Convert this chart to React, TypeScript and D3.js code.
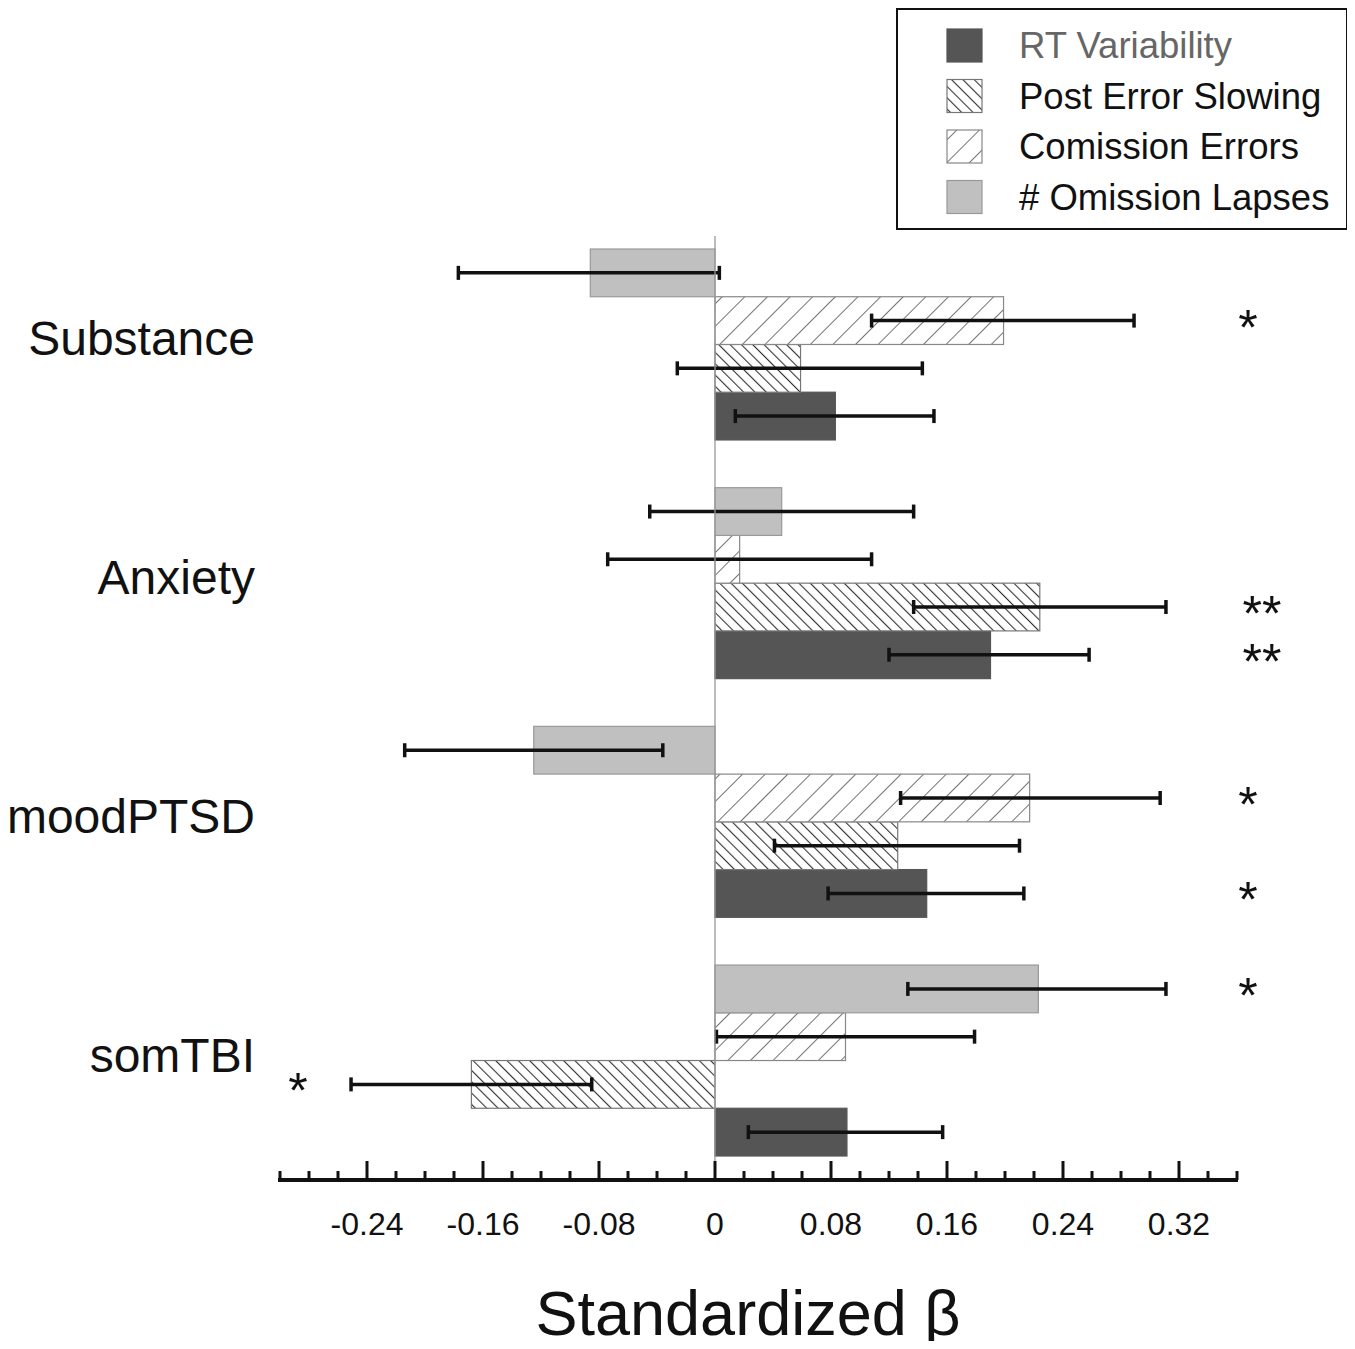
import React from "react";
import * as d3 from "d3";

// groups drawn top to bottom
const categories = ["Substance", "Anxiety", "moodPTSD", "somTBI"];
// series in legend order (bottom to top within a group)
const seriesNames = ["RT Variability", "Post Error Slowing", "Comission Errors", "# Omission Lapses"];

// values [RT, PES, Commission, Omission] per category
const betas = [
  [0.083, 0.059, 0.199, -0.086],
  [0.19, 0.224, 0.017, 0.046],
  [0.146, 0.126, 0.217, -0.125],
  [0.091, -0.168, 0.09, 0.223],
];
const ciLow = [
  [0.014, -0.026, 0.108, -0.177],
  [0.12, 0.137, -0.074, -0.045],
  [0.078, 0.041, 0.128, -0.214],
  [0.023, -0.251, 0.001, 0.133],
];
const ciHigh = [
  [0.151, 0.143, 0.289, 0.003],
  [0.258, 0.311, 0.108, 0.137],
  [0.213, 0.21, 0.307, -0.036],
  [0.157, -0.085, 0.179, 0.311],
];
const stars = [
  ["", "", "*", ""],
  ["**", "**", "", ""],
  ["*", "", "*", ""],
  ["", "*", "", "*"],
];
const tickLabels = [-0.24, -0.16, -0.08, 0, 0.08, 0.16, 0.24, 0.32];

const font = "'Liberation Sans', Arial, sans-serif";

export default function App() {
  const width = 1355;
  const height = 1349;
  const x = d3.scaleLinear().domain([-0.3, 0.36]).range([280, 1237]);
  const yGroup = d3.scaleBand().domain(categories).range([249, 1156]).paddingInner(0.2);
  const ySeries = d3
    .scaleBand()
    .domain(["3", "2", "1", "0"])
    .range([0, yGroup.bandwidth()]);
  const axisY = 1180;
  const ticks = d3.range(-15, 19).map((i) => i * 0.02);

  const fills = ["#555555", "url(#pes)", "url(#com)", "#c0c0c0"];
  const strokes = ["#555555", "#777777", "#888888", "#999999"];

  return (
    <svg width={width} height={height} style={{ display: "block", margin: -8 }}>
      <defs>
        <pattern id="pes" patternUnits="userSpaceOnUse" width="8" height="8" patternTransform="rotate(-45)">
          <rect width="8" height="8" fill="#fff" />
          <line x1="0" y1="0" x2="0" y2="8" stroke="#333" strokeWidth="2.2" />
        </pattern>
        <pattern id="com" patternUnits="userSpaceOnUse" width="16" height="16" patternTransform="rotate(45)">
          <rect width="16" height="16" fill="#fff" />
          <line x1="0" y1="0" x2="0" y2="16" stroke="#444" strokeWidth="1.5" />
        </pattern>
      </defs>
      <rect width={width} height={height} fill="#fff" />

      {categories.map((cat, ci) => {
        const gy = yGroup(cat)!;
        return (
          <g key={cat}>
            <text
              x={255}
              y={gy + yGroup.bandwidth() / 2 + 11}
              textAnchor="end"
              fontFamily={font}
              fontSize={48}
              fill="#111"
            >
              {cat}
            </text>
            {seriesNames.map((s, si) => {
              const v = betas[ci][si];
              const by = gy + ySeries(String(si))!;
              const bh = ySeries.bandwidth();
              const x0 = x(Math.min(0, v));
              const x1 = x(Math.max(0, v));
              const cy = by + bh / 2;
              const lo = x(ciLow[ci][si]);
              const hi = x(ciHigh[ci][si]);
              const st = stars[ci][si];
              return (
                <g key={s}>
                  <rect x={x0} y={by} width={x1 - x0} height={bh} fill={fills[si]} stroke={strokes[si]} strokeWidth={1.2} />
                  <line x1={lo} x2={hi} y1={cy} y2={cy} stroke="#111" strokeWidth={3.5} />
                  <line x1={lo} x2={lo} y1={cy - 7} y2={cy + 7} stroke="#111" strokeWidth={3.5} />
                  <line x1={hi} x2={hi} y1={cy - 7} y2={cy + 7} stroke="#111" strokeWidth={3.5} />
                  {st && (
                    <text
                      x={v < 0 ? 298 : st.length > 1 ? 1262 : 1248}
                      y={cy + 24}
                      textAnchor="middle"
                      fontFamily={font}
                      fontSize={50}
                      fill="#111"
                    >
                      {st}
                    </text>
                  )}
                </g>
              );
            })}
          </g>
        );
      })}

      {/* zero line */}
      <line x1={x(0)} x2={x(0)} y1={236} y2={axisY} stroke="#999" strokeWidth={1.3} />

      {/* x axis */}
      <line x1={x(-0.3) - 2} x2={x(0.36) + 1} y1={axisY} y2={axisY} stroke="#111" strokeWidth={4} />
      {ticks.map((t) => {
        const major = tickLabels.some((l) => Math.abs(l - t) < 1e-6);
        return (
          <line
            key={t.toFixed(2)}
            x1={x(t)}
            x2={x(t)}
            y1={axisY}
            y2={axisY - (major ? 19 : 9)}
            stroke="#111"
            strokeWidth={3}
          />
        );
      })}
      {tickLabels.map((t) => (
        <text key={t} x={x(t)} y={1235} textAnchor="middle" fontFamily={font} fontSize={32} fill="#111">
          {t === 0 ? "0" : d3.format(".2f")(t).replace("\u2212", "-")}
        </text>
      ))}
      <text x={748} y={1335} textAnchor="middle" fontFamily={font} fontSize={63} fill="#111">
        Standardized β
      </text>

      {/* legend */}
      <rect x={897} y={9} width={450} height={220} fill="#fff" stroke="#111" strokeWidth={2} />
      {seriesNames.map((s, si) => {
        const cy = 45 + si * 50.5;
        return (
          <g key={s}>
            <rect x={947} y={cy - 16} width={35} height={33} fill={fills[si]} stroke={strokes[si]} strokeWidth={1.2} />
            <text x={1019} y={cy + 13} fontFamily={font} fontSize={36.5} fill={si === 0 ? "#666" : "#111"}>
              {s}
            </text>
          </g>
        );
      })}
    </svg>
  );
}
